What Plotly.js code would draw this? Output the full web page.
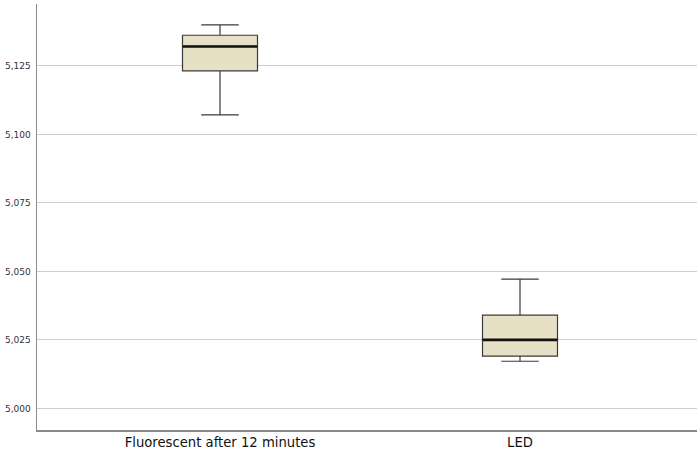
<!DOCTYPE html>
<html>
<head>
<meta charset="utf-8">
<script src="https://cdn.plot.ly/plotly-3.0.1.min.js"></script>
<style>
  html, body { margin: 0; padding: 0; background: #fff; }
  #chart { width: 697px; height: 452px; }
</style>
</head>
<body>
<div id="chart"></div>
<script>
// Groups and their five-number summaries
const groups = ["Fluorescent after 12 minutes", "LED"];
const lowerWhisker = [5.1071, 5.0172];
const q1 = [5.1232, 5.0191];
const median = [5.1321, 5.0250];
const q3 = [5.1362, 5.0340];
const upperWhisker = [5.1400, 5.0472];
const yTicks = [5.000, 5.025, 5.050, 5.075, 5.100, 5.125];

const boxHalf = 0.125;

const trace = {
  type: "box",
  x: groups,
  q1: q1,
  median: median,
  q3: q3,
  lowerfence: lowerWhisker,
  upperfence: upperWhisker,
  fillcolor: "#e6e0c4",
  line: { color: "#3a3a3a", width: 1.2 },
  whiskerwidth: 0.5,
  width: 2 * boxHalf,
  boxpoints: false,
  hoverinfo: "skip",
  showlegend: false
};

// Heavier median bars drawn on top of each box
const medianShapes = median.map((m, i) => ({
  type: "line",
  xref: "x", yref: "y",
  x0: i - boxHalf, x1: i + boxHalf,
  y0: m, y1: m,
  line: { color: "#111", width: 2.6 },
  layer: "above"
}));

const layout = {
  width: 697,
  height: 452,
  margin: { l: 37, r: 0, t: 4, b: 22 },
  paper_bgcolor: "#fff",
  plot_bgcolor: "#fff",
  separators: ",.",
  showlegend: false,
  shapes: medianShapes,
  xaxis: {
    type: "category",
    range: [-0.61, 1.59],
    showgrid: false,
    zeroline: false,
    showline: true,
    linecolor: "#8a8a8a",
    linewidth: 1.5,
    ticks: "",
    tickfont: { family: "DejaVu Sans, sans-serif", size: 13.2, color: "#111" },
    fixedrange: true
  },
  yaxis: {
    range: [4.9921, 5.1476],
    tickvals: yTicks,
    tickformat: ".3f",
    showgrid: true,
    gridcolor: "#cfcfcf",
    gridwidth: 1,
    zeroline: false,
    showline: true,
    linecolor: "#8a8a8a",
    linewidth: 1.5,
    ticks: "",
    ticklabelstandoff: 3,
    tickfont: { family: "DejaVu Sans, sans-serif", size: 9, color: "#333" },
    fixedrange: true
  }
};

Plotly.newPlot("chart", [trace], layout, { staticPlot: true, displayModeBar: false });
</script>
</body>
</html>
